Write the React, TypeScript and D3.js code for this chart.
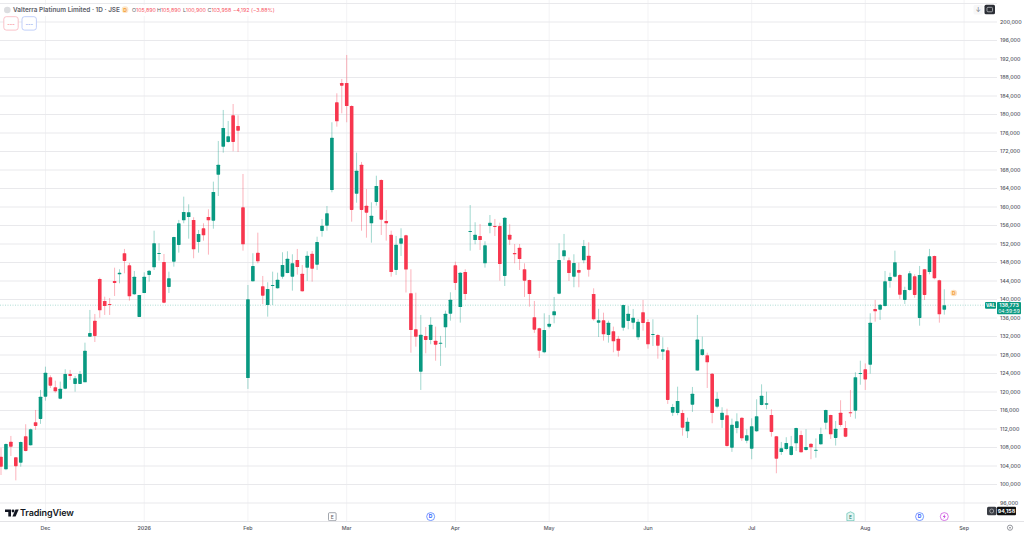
import React from "react";
import * as d3 from "d3";

// Prices in thousands of ZAc, one entry per daily candle
const opens = [
  106.02,103.30,109.26,105.89,104.72,110.43,108.49,113.46,114.17,118.99,
  123.19,121.03,118.56,120.72,123.90,121.74,121.74,122.11,131.97,135.42,
  144.44,139.68,139.03,144.01,145.46,150.00,147.40,141.13,136.23,141.41,
  145.31,146.97,149.84,148.12,142.71,148.18,151.79,157.13,157.84,157.20,
  152.44,155.40,157.84,157.04,166.99,173.04,174.06,179.83,177.52,159.94,
  123.03,143.94,150.13,142.86,138.81,142.92,142.43,144.94,145.73,144.94,
  148.55,145.58,146.88,149.91,147.53,154.82,155.96,163.68,182.64,186.81,
  186.81,181.84,162.88,169.15,160.29,156.48,161.09,165.84,156.98,154.02,
  146.39,152.07,153.88,141.35,133.56,124.40,132.12,131.25,131.10,130.45,
  134.00,136.94,147.40,138.38,145.95,154.66,152.87,153.73,147.83,155.90,
  155.90,155.90,145.09,154.02,150.06,151.21,146.54,144.22,136.16,133.78,
  128.58,134.12,136.59,141.26,149.34,148.48,144.94,146.39,148.48,149.48,
  141.19,134.98,135.50,132.33,133.13,131.53,133.91,135.36,134.98,131.84,
  137.24,135.14,132.40,132.33,128.72,129.02,115.54,115.47,115.47,111.51,
  117.26,124.63,128.01,127.94,123.96,116.83,113.96,114.97,107.97,112.23,
  114.45,109.48,107.75,111.51,117.20,117.26,115.04,110.43,107.03,107.68,
  106.39,108.92,110.71,107.47,108.83,107.41,108.70,113.37,115.04,110.06,
  115.53,112.23,115.62,115.97,123.96,124.91,125.91,137.95,137.80,138.60,
  144.01,144.94,145.31,139.90,142.06,145.02,136.01,146.54,145.95,149.41,
  144.16,137.80,
];
const highs = [
  107.90,108.90,110.50,105.89,109.30,113.03,112.10,116.12,120.44,125.48,
  123.60,122.45,122.24,124.92,124.77,123.47,124.55,130.67,137.74,136.87,
  144.72,140.61,140.33,146.88,146.54,150.93,147.90,146.17,141.00,145.89,
  146.38,154.88,152.16,149.84,146.02,153.58,157.20,162.23,160.59,157.78,
  155.03,156.48,159.51,165.48,174.28,180.98,178.60,182.27,179.83,167.14,
  143.14,150.00,154.45,145.09,143.72,146.02,145.80,150.21,150.43,149.78,
  150.93,147.46,150.43,150.49,153.58,157.41,160.22,178.32,184.59,187.68,
  192.87,182.00,171.75,169.74,163.90,161.02,166.77,166.00,159.36,154.88,
  153.74,155.40,154.00,146.54,141.47,136.66,134.06,136.16,134.13,132.12,
  137.59,141.56,148.18,145.90,146.54,160.43,156.70,156.33,152.59,158.27,
  157.41,156.61,157.80,156.26,152.00,152.00,147.83,144.30,139.68,133.90,
  137.02,136.66,140.55,152.16,154.17,149.08,149.78,147.96,152.87,152.37,
  142.42,137.98,137.15,135.42,134.13,132.12,138.90,138.60,137.95,135.79,
  139.90,135.72,135.72,132.55,131.83,129.67,117.42,121.15,116.12,114.45,
  121.09,136.66,131.97,128.50,124.10,119.94,116.70,116.38,114.24,115.40,
  114.50,111.95,114.32,118.43,121.66,120.07,116.27,110.50,109.20,110.22,
  110.50,112.30,111.64,111.95,108.90,109.97,112.29,116.20,115.10,113.74,
  118.22,113.74,120.44,124.27,126.77,126.17,137.02,139.90,139.00,146.17,
  145.80,150.56,145.52,142.77,146.17,145.45,147.25,146.60,150.93,149.50,
  144.30,142.21,
];
const lows = [
  102.06,103.10,106.17,100.90,103.86,107.15,108.40,111.79,113.11,118.13,
  120.87,119.86,118.43,120.59,122.60,120.07,121.74,122.11,131.97,130.81,
  136.07,136.66,136.66,140.76,143.51,145.67,139.75,140.98,136.20,141.35,
  143.86,146.39,148.40,139.19,141.41,147.10,150.13,156.48,153.15,148.92,
  150.13,152.72,149.70,155.31,162.38,171.75,173.91,172.05,171.90,150.56,
  120.66,143.86,147.83,139.03,136.29,138.81,142.34,144.50,145.67,141.91,
  145.37,141.69,144.01,143.86,146.39,153.58,154.88,163.18,177.37,180.26,
  178.32,156.83,160.93,154.88,153.37,152.29,160.29,153.95,152.72,144.94,
  145.31,149.41,141.52,128.50,129.80,120.44,128.37,130.32,126.77,125.63,
  129.59,135.42,142.06,135.00,139.90,150.56,151.94,150.71,146.88,154.32,
  153.73,144.07,142.92,151.79,147.83,146.39,140.55,138.45,132.77,127.35,
  128.37,133.78,134.86,141.13,148.55,144.01,142.65,142.65,147.83,144.94,
  135.42,131.90,131.10,130.67,128.59,127.64,133.26,133.56,133.56,131.25,
  133.26,129.37,129.95,127.20,126.92,117.42,114.82,114.97,110.56,110.06,
  115.69,124.54,127.79,120.87,113.24,116.49,112.23,108.18,107.05,111.08,
  109.42,108.92,105.46,111.36,117.12,116.27,110.35,102.43,106.39,107.40,
  106.24,107.25,106.88,107.32,105.46,105.80,108.55,111.95,109.85,108.42,
  112.51,110.22,114.61,114.24,121.58,120.44,123.96,135.21,135.57,138.45,
  142.56,144.80,140.12,139.03,141.91,140.39,134.34,139.90,145.45,144.37,
  134.99,136.72,
];
const closes = [
  103.86,108.77,108.18,103.96,109.20,107.25,111.95,112.66,118.99,124.18,
  121.37,120.16,120.72,123.90,123.47,122.97,123.90,128.94,132.77,132.12,
  137.67,138.60,138.81,143.58,145.80,148.33,140.70,144.94,140.98,144.94,
  146.23,152.16,150.06,139.32,144.59,153.52,156.48,158.93,158.86,150.86,
  154.17,153.89,157.13,163.25,169.15,177.09,175.29,174.06,176.50,151.94,
  140.05,147.25,148.27,140.82,142.27,143.14,144.29,147.46,148.83,147.83,
  147.03,141.78,149.48,146.66,152.44,155.96,158.64,174.99,178.53,186.23,
  181.84,159.36,167.85,159.36,158.77,158.12,164.55,157.26,156.48,145.95,
  151.85,153.23,146.49,133.41,131.97,132.40,131.25,134.56,130.23,130.67,
  136.94,139.96,143.58,145.80,141.19,154.82,154.02,152.87,151.72,156.61,
  155.74,147.68,157.69,152.93,149.78,148.76,144.07,141.19,133.48,128.94,
  133.41,134.77,137.46,148.55,150.64,145.73,147.90,145.80,151.57,146.45,
  135.72,135.50,132.47,134.98,130.97,128.94,138.81,136.94,136.07,135.21,
  134.92,130.32,132.55,130.02,129.24,118.28,116.77,118.06,112.29,113.59,
  119.64,131.33,129.24,126.43,115.47,118.56,115.53,108.33,112.94,113.67,
  110.00,110.65,112.59,114.76,119.21,117.57,111.36,105.59,107.84,108.98,
  108.27,112.23,106.97,108.12,108.05,107.53,110.93,116.12,110.86,112.07,
  112.87,110.35,115.40,123.19,124.11,122.71,134.99,137.45,138.88,143.94,
  144.87,148.05,141.04,142.06,145.67,140.98,145.31,140.98,149.34,144.59,
  136.80,138.77,
];

const monthLabels = ["Dec", "2026", "Feb", "Mar", "Apr", "May", "Jun", "Jul", "Aug", "Sep"];
const monthIndex = [9, 29, 50, 70, 92, 111, 131, 152, 175, 195];
const gridPrices = d3.range(92, 205, 4);
const labelPrices = d3.range(96, 201, 4);
const lastPrice = 138.773;
const hiddenLow = 94.158;
const eventMarks = [
  { idx: 67.0, kind: "E", c: "#7a7f8a" },
  { idx: 87, kind: "D", c: "#2962ff" },
  { idx: 172, kind: "E", c: "#22ab94" },
  { idx: 186, kind: "D", c: "#2962ff" },
  { idx: 191, kind: "S", c: "#c232d8" },
];

const GREEN = "#089981";
const RED = "#F7364E";
const FONT = "Inter, Roboto, 'Liberation Sans', sans-serif";

const x = d3.scaleLinear().domain([0, 191]).range([1, 944.3]);
const y = d3.scaleLinear().domain([200, 96]).range([22, 503]);
const fmt = d3.format(",");

export default function App() {
  const lastY = y(lastPrice);
  return (
    <svg
      width={1024}
      height={535}
      viewBox="0 0 1024 535"
      style={{ position: "absolute", left: 0, top: 0, background: "#fff", fontFamily: FONT }}
    >
      {monthIndex.map((m, k) => (
        <line key={k} x1={x(m)} x2={x(m)} y1={0} y2={521.5} stroke="#f3f3f5" strokeWidth={1} />
      ))}
      {gridPrices.map((p) => (
        <line key={p} x1={0} x2={997} y1={y(p)} y2={y(p)} stroke="#e9e9ec" strokeWidth={1} />
      ))}

      <line x1={0} x2={997} y1={lastY} y2={lastY} stroke={GREEN} strokeOpacity={0.55} strokeWidth={0.6} strokeDasharray="1 1.5" />

      {opens.map((o, i) => {
        const c = closes[i];
        const col = c >= o ? GREEN : RED;
        const top = y(Math.max(o, c));
        const h = Math.max(y(Math.min(o, c)) - top, 1);
        return (
          <g key={i}>
            <line x1={x(i)} x2={x(i)} y1={y(highs[i])} y2={y(lows[i])} stroke={col} strokeOpacity={0.38} strokeWidth={1} />
            <rect x={x(i) - 1.8} y={top} width={3.6} height={h} rx={0.6} fill={col} />
          </g>
        );
      })}

      {/* legend */}
      <rect x={0} y={5} width={272} height={11} fill="#fff" />
      <circle cx={7.3} cy={10} r={3.3} fill="#dcdde0" />
      <text x={13} y={12} fontSize={6.4} fontWeight={600} fill="#5d6068">Valterra Platinum Limited · 1D · JSE</text>
      <circle cx={125} cy={9.7} r={3.4} fill="#fde6c8" />
      <text x={125} y={11.6} fontSize={5} fontWeight={700} fill="#f29d38" textAnchor="middle">D</text>
      <text y={12} fontSize={5.3}>
        <tspan x={132} fill="#5d6068">O</tspan><tspan fill="#f7525f">105,890</tspan>
        <tspan x={157} fill="#5d6068">H</tspan><tspan fill="#f7525f">105,890</tspan>
        <tspan x={183} fill="#5d6068">L</tspan><tspan fill="#f7525f">100,900</tspan>
        <tspan x={207.5} fill="#5d6068">C</tspan><tspan fill="#f7525f">103,958</tspan>
        <tspan x={233} fill="#f7525f">−4,192 (−3.88%)</tspan>
      </text>
      <rect x={3.8} y={16.7} width={14.4} height={13.4} rx={2.5} fill="#fff" stroke="#f9b4bc" strokeWidth={0.8} />
      <text x={11} y={25.5} fontSize={5.5} textAnchor="middle" fill="#f7525f">---</text>
      <rect x={22} y={16.7} width={14.4} height={13.4} rx={2.5} fill="#fff" stroke="#b2c4f7" strokeWidth={0.8} />
      <text x={29.2} y={25.5} fontSize={5.5} textAnchor="middle" fill="#5b7fe8">---</text>

      {/* top-right controls */}
      <rect x={973.5} y={5} width={9.5} height={9.5} rx={1.5} fill="#f7f7f8" />
      <text x={978.2} y={12} fontSize={6.5} textAnchor="middle" fill="#6a6d75">↓</text>
      <rect x={984.5} y={4.8} width={10.5} height={9.5} rx={1.5} fill="#2c2f36" />
      <rect x={987} y={7.3} width={5.5} height={4.5} rx={1} fill="none" stroke="#cfd1d6" strokeWidth={0.7} />

      {/* price axis */}
      {labelPrices.map((p) => (
        <text key={p} x={1000} y={y(p) + 1.9} fontSize={5.3} fontWeight={500} fill="#55585f">{fmt(p * 1000)}</text>
      ))}

      {/* last price tags */}
      <rect x={985} y={lastY - 3.2} width={11} height={6.8} rx={1} fill={GREEN} />
      <text x={990.5} y={lastY + 2} fontSize={4.6} fontWeight={700} fill="#fff" textAnchor="middle">VAL</text>
      <rect x={997} y={lastY - 3.2} width={24} height={12.2} rx={1} fill={GREEN} />
      <text x={1009} y={lastY + 2} fontSize={5.2} fontWeight={600} fill="#fff" textAnchor="middle">{fmt(Math.round(lastPrice * 1000))}</text>
      <text x={1009} y={lastY + 7.6} fontSize={5} fill="#fff" textAnchor="middle">04:59:59</text>

      {/* next dividend marker */}
      <circle cx={953.7} cy={293} r={3.3} fill="#fde2c0" />
      <text x={953.7} y={294.8} fontSize={4.8} fontWeight={700} fill="#f29d38" textAnchor="middle">D</text>

      {/* low price tag */}
      <rect x={987} y={506.7} width={9.5} height={8.6} rx={1.5} fill="#3a3d44" />
      <circle cx={991.7} cy={511} r={2} fill="none" stroke="#d5d6da" strokeWidth={0.6} />
      <rect x={997} y={506.7} width={19} height={8.6} rx={1} fill="#111" />
      <text x={1006.5} y={513} fontSize={5.3} fontWeight={700} fill="#fff" textAnchor="middle">{fmt(Math.round(hiddenLow * 1000))}</text>

      {/* logo */}
      <g fill="#131722">
        <path d="M5 509.5H11V516.5H8.3V512H5Z" />
        <circle cx={13} cy={511} r={1.4} />
        <path d="M15.5 509.5H18.7L15.6 516.5H12.4Z" />
      </g>
      <text x={20} y={516.4} fontSize={9} fontWeight={600} fill="#131722" letterSpacing={-0.1}>TradingView</text>

      {/* events */}
      {eventMarks.map((e, k) => {
        const cx = x(e.idx);
        if (e.c === "#7a7f8a") {
          return (
            <g key={k}>
              <rect x={328.5} y={512.7} width={7.6} height={8} rx={1} fill="#fff" stroke={e.c} strokeWidth={0.7} />
              <text x={332.3} y={518.6} fontSize={5} textAnchor="middle" fill="#555">E</text>
            </g>
          );
        }
        if (e.kind === "E") {
          return (
            <g key={k}>
              <path d={`M${cx - 3.6} ${513.5}L${cx} ${511.8}L${cx + 3.6} ${513.5}V${520.7}H${cx - 3.6}Z`} fill="#e5f5f2" stroke={e.c} strokeOpacity={0.7} strokeWidth={0.7} />
              <text x={cx} y={519} fontSize={5} textAnchor="middle" fill="#147a69">E</text>
            </g>
          );
        }
        return (
          <g key={k}>
            <circle cx={cx} cy={516.6} r={4} fill="#fff" stroke={e.c} strokeOpacity={0.7} strokeWidth={0.9} />
            {e.kind === "D" ? (
              <text x={cx} y={518.4} fontSize={5} fontWeight={700} textAnchor="middle" fill={e.c}>D</text>
            ) : (
              <path d={`M${cx + 0.8} ${514.1}L${cx - 1.5} ${517}H${cx - 0.1}L${cx - 0.8} ${519.1}L${cx + 1.5} ${516.2}H${cx + 0.1}Z`} fill={e.c} />
            )}
          </g>
        );
      })}

      {/* time axis */}
      <line x1={0} x2={1024} y1={521.5} y2={521.5} stroke="#e3e3e6" strokeWidth={1} />
      {monthLabels.map((m, k) => (
        <text key={m} x={x(monthIndex[k])} y={529.5} fontSize={5.3} fontWeight={m === "2026" ? 600 : 500} fill="#55585f" textAnchor="middle">{m}</text>
      ))}
      <circle cx={1010} cy={527.7} r={2.6} fill="none" stroke="#6a6d75" strokeWidth={0.7} />
      <circle cx={1010} cy={527.7} r={0.8} fill="#6a6d75" />
    </svg>
  );
}
